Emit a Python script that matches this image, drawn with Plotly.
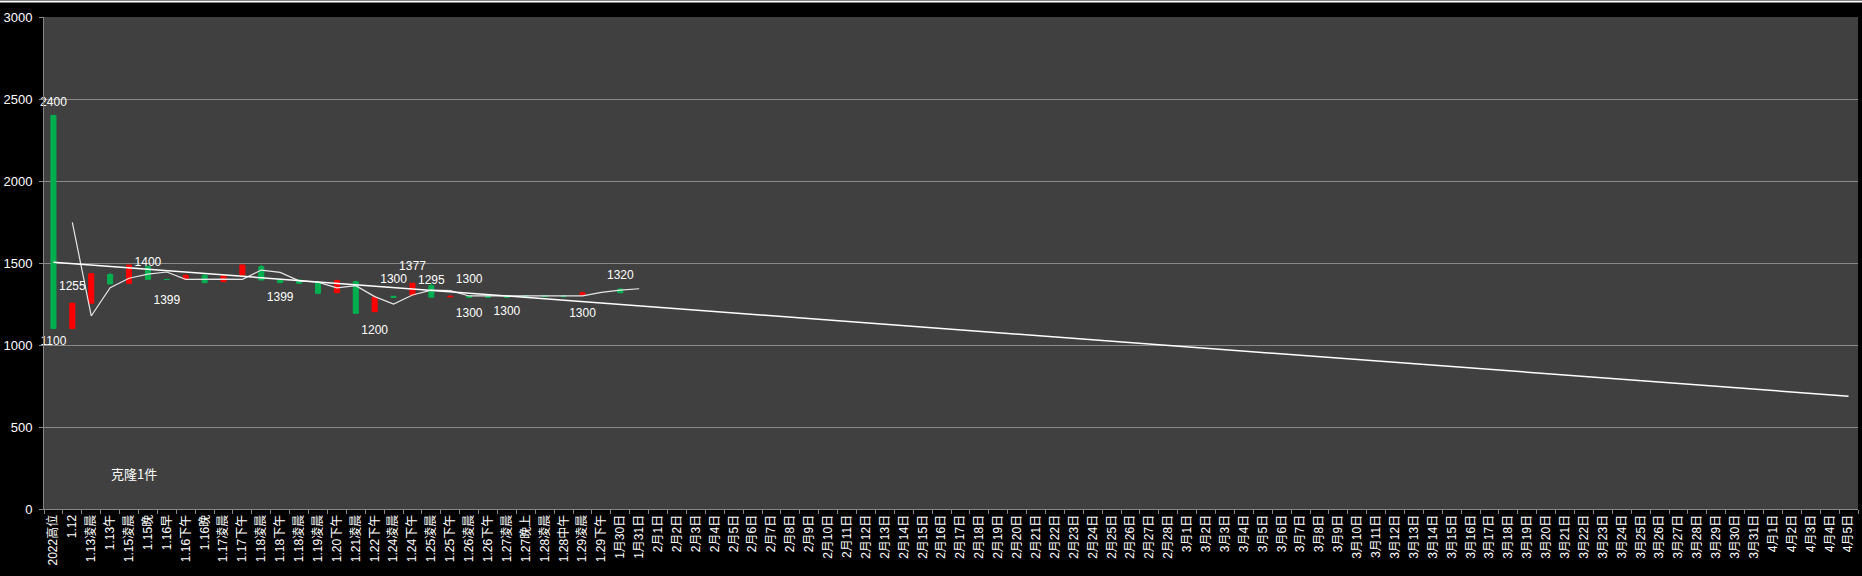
import plotly.graph_objects as go

# ---------------- data ----------------
early_labels = ["2022高位", "1.12", "1.13凌晨", "1.13午", "1.15凌晨", "1.15晚", "1.16早", "1.16下午",
                "1.16晚", "1.17凌晨", "1.17下午", "1.18凌晨", "1.18下午", "1.18凌晨", "1.19凌晨", "1.20下午",
                "1.21凌晨", "1.22下午", "1.24凌晨", "1.24下午", "1.25凌晨", "1.25下午", "1.26凌晨", "1.26下午",
                "1.27凌晨", "1.27晚上", "1.28凌晨", "1.28中午", "1.29凌晨", "1.29下午", "1月30日", "1月31日"]
feb_labels = [f"2月{d}日" for d in range(1, 29)]
mar_labels = [f"3月{d}日" for d in range(1, 32)]
apr_labels = [f"4月{d}日" for d in range(1, 6)]
tick_labels = early_labels + feb_labels + mar_labels + apr_labels

open_vals = [2400, 1100, 1255, 1430, 1376, 1478, 1400, 1399, 1425, 1386, 1427, 1478, 1400, 1396, 1382, 1319,
             1386, 1203, 1297, 1305, 1362, 1293, 1300, 1300, 1300, 1300, 1300, 1300, 1305, None, 1341, None]
high_vals = [2400, 1255, 1435, 1440, 1488, 1485, 1400, 1431, 1432, 1421, 1488, 1490, 1400, 1396, 1382, 1398,
             1392, 1291, 1297, 1380, 1377, 1299, 1300, 1300, 1300, 1300, 1300, 1300, 1325, None, 1345, None]
low_vals = [1100, 1100, 1255, 1372, 1376, 1400, 1399, 1399, 1380, 1386, 1427, 1396, 1380, 1376, 1315, 1319,
            1193, 1203, 1290, 1305, 1291, 1293, 1291, 1291, 1291, 1295, 1295, 1295, 1305, None, 1318, None]
close_vals = [1100, 1255, 1435, 1372, 1488, 1400, 1399, 1425, 1380, 1421, 1488, 1396, 1380, 1376, 1315, 1392,
              1193, 1291, 1290, 1376, 1291, 1297, 1291, 1291, 1291, 1295, 1295, 1295, 1318, None, 1318, None]

ma_vals = [None, 1748, 1177, 1350, 1407, 1432, 1445, 1400, 1403, 1402, 1400, 1457, 1443, 1391, 1383, 1348,
           1362, 1295, 1250, 1305, 1335, 1331, 1299, 1299, 1300, 1300, 1300, 1300, 1300, 1321, 1335, 1343]

trend_start = 1505
trend_end = 688

label_idx = [0, 0, 1, 5, 6, 12, 17, 18, 19, 20, 22, 22, 24, 28, 30]
label_y = [2475, 1018, 1352, 1502, 1270, 1285, 1087, 1396, 1478, 1390, 1396, 1187, 1203, 1187, 1423]
label_text = ["2400", "1100", "1255", "1400", "1399", "1399", "1200", "1300", "1377", "1295", "1300",
              "1300", "1300", "1300", "1320"]

note_text = "克隆1件"

# unique category keys (the label "1.18凌晨" appears twice)
categories = []
for lab in tick_labels:
    key = lab
    while key in categories:
        key += "\u200b"
    categories.append(key)

n_early = len(early_labels)
early_cats = categories[:n_early]

# ---------------- figure ----------------
fig = go.Figure()

fig.add_trace(go.Candlestick(
    x=early_cats, open=open_vals, high=high_vals, low=low_vals, close=close_vals,
    increasing=dict(line=dict(color="#ff0000", width=1), fillcolor="#ff0000"),
    decreasing=dict(line=dict(color="#00b050", width=1), fillcolor="#00b050"),
    whiskerwidth=0, showlegend=False, hoverinfo="skip",
))

fig.add_trace(go.Scatter(
    x=early_cats, y=ma_vals, mode="lines",
    line=dict(color="#e6e6e6", width=1.2), showlegend=False, hoverinfo="skip",
))

fig.add_trace(go.Scatter(
    x=[categories[0], categories[-1]], y=[trend_start, trend_end], mode="lines",
    line=dict(color="#ffffff", width=1.5), showlegend=False, hoverinfo="skip",
))

fig.add_trace(go.Scatter(
    x=[categories[i] for i in label_idx], y=label_y, mode="text", text=label_text,
    textfont=dict(color="#ffffff", size=12, family="Liberation Sans, Noto Sans CJK SC"),
    textposition="middle center", cliponaxis=False, showlegend=False, hoverinfo="skip",
))

fig.add_annotation(
    text=note_text, xref="paper", yref="paper", x=0.0496, y=0.073,
    xanchor="center", yanchor="middle",
    showarrow=False, font=dict(color="#ffffff", size=13, family="Noto Sans CJK SC"),
)

# thin white line at the very top of the image
fig.add_shape(type="line", xref="paper", yref="paper", x0=-0.03, x1=1.01, y0=1.0315, y1=1.0315,
              line=dict(color="#ffffff", width=2))

fig.update_layout(
    width=1862, height=576,
    margin=dict(l=44, r=4, t=17, b=67),
    paper_bgcolor="#000000", plot_bgcolor="#404040",
    boxgap=0.62,
    font=dict(color="#ffffff", family="Liberation Sans, Noto Sans CJK SC", size=12),
)

fig.update_xaxes(
    type="category", categoryorder="array", categoryarray=categories,
    range=[-0.5, len(categories) - 0.5],
    rangeslider=dict(visible=False),
    tickmode="array", tickvals=categories, ticktext=tick_labels,
    tickangle=-90, tickson="boundaries", ticks="outside", ticklen=4, tickcolor="#868686",
    showline=True, linecolor="#868686", linewidth=1,
    showgrid=False, automargin=False,
    tickfont=dict(color="#ffffff", size=12, family="Liberation Sans, Noto Sans CJK SC"),
)

fig.update_yaxes(
    range=[0, 3000], dtick=500, tick0=0,
    showgrid=True, gridcolor="#8a8a8a", gridwidth=1,
    showline=True, linecolor="#868686", linewidth=1,
    ticks="outside", ticklen=4, tickcolor="#868686", ticklabelstandoff=4,
    zeroline=False, automargin=False,
    tickfont=dict(color="#ffffff", size=13, family="Liberation Sans"),
)

fig.write_html(
    "out.html",
    config={"displayModeBar": False},
    post_script="document.body.style.margin='0';document.body.style.overflow='hidden';",
)
